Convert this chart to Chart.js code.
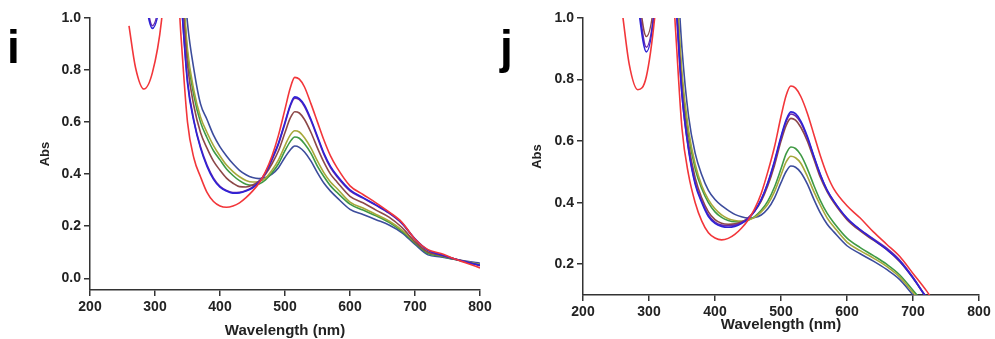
<!DOCTYPE html>
<html>
<head>
<meta charset="utf-8">
<script src="https://cdn.jsdelivr.net/npm/chart.js@4/dist/chart.umd.min.js"></script>
<style>
	body { margin: 0; background: #fff; }
	.panel { position: absolute; top: 0; }
	.tag {
		position: absolute;
		font: bold 46px 'Liberation Sans', Arial, sans-serif;
		line-height: 46px;
		color: #000;
	}
</style>
</head>
<body>
<div class="panel" style="left:0"><canvas id="chart-i" width="495" height="339"></canvas></div>
<div class="panel" style="left:495px"><canvas id="chart-j" width="500" height="339"></canvas></div>
<div class="tag" style="left:7px;top:24px">i</div>
<div class="tag" style="left:500px;top:24px">j</div>
<script>
// Utilities
const wavelength = [260, 270, 283, 296, 310, 320, 330, 340, 350, 360, 370, 380, 390, 400, 410, 420, 430, 440, 450, 460, 470, 480, 490, 500, 508, 515, 522, 530, 540, 550, 560, 570, 580, 600, 620, 640, 660, 680, 700, 720, 740, 760, 780, 800];
const xTicks = [200, 300, 400, 500, 600, 700, 800];
const yTicksI = [0, 0.2, 0.4, 0.6, 0.8, 1.0];
const yTicksJ = [0.2, 0.4, 0.6, 0.8, 1.0];

// Panel i spectra
const iRed = [0.97, 0.81, 0.727, 0.79, 0.99, 1.3, 1.3, 0.93, 0.6, 0.46, 0.39, 0.33, 0.295, 0.278, 0.273, 0.278, 0.29, 0.31, 0.335, 0.365, 0.41, 0.47, 0.55, 0.65, 0.73, 0.772, 0.765, 0.735, 0.67, 0.6, 0.53, 0.47, 0.425, 0.355, 0.322, 0.29, 0.255, 0.215, 0.15, 0.11, 0.095, 0.075, 0.058, 0.04];
const iBlue = [1.4, 1.3, 1.1, 0.96, 1.1, 1.4, 1.4, 1.08, 0.75, 0.6, 0.5, 0.43, 0.38, 0.35, 0.335, 0.327, 0.328, 0.335, 0.347, 0.368, 0.405, 0.46, 0.52, 0.6, 0.665, 0.697, 0.69, 0.665, 0.61, 0.545, 0.48, 0.43, 0.395, 0.34, 0.31, 0.282, 0.252, 0.212, 0.152, 0.108, 0.09, 0.075, 0.062, 0.05];
const iPurple = [1.4, 1.3, 1.12, 0.97, 1.12, 1.4, 1.4, 1.08, 0.76, 0.605, 0.505, 0.435, 0.385, 0.353, 0.337, 0.329, 0.33, 0.337, 0.35, 0.372, 0.405, 0.455, 0.515, 0.595, 0.66, 0.692, 0.686, 0.66, 0.605, 0.54, 0.475, 0.425, 0.39, 0.336, 0.308, 0.28, 0.25, 0.21, 0.15, 0.107, 0.09, 0.075, 0.062, 0.048];
const iBrown = [1.45, 1.35, 1.15, 1.05, 1.15, 1.45, 1.45, 1.15, 0.82, 0.66, 0.56, 0.5, 0.45, 0.415, 0.385, 0.365, 0.352, 0.351, 0.358, 0.373, 0.4, 0.44, 0.49, 0.56, 0.615, 0.64, 0.635, 0.61, 0.56, 0.5, 0.445, 0.4, 0.37, 0.315, 0.29, 0.262, 0.235, 0.195, 0.14, 0.1, 0.088, 0.075, 0.062, 0.05];
const iOlive = [1.5, 1.4, 1.2, 1.1, 1.2, 1.5, 1.5, 1.22, 0.88, 0.72, 0.62, 0.56, 0.51, 0.47, 0.435, 0.41, 0.39, 0.376, 0.37, 0.372, 0.385, 0.415, 0.455, 0.51, 0.55, 0.567, 0.562, 0.54, 0.5, 0.45, 0.405, 0.37, 0.345, 0.293, 0.27, 0.245, 0.22, 0.185, 0.14, 0.1, 0.088, 0.075, 0.063, 0.053];
const iGreen = [1.5, 1.4, 1.2, 1.1, 1.2, 1.5, 1.5, 1.2, 0.86, 0.7, 0.6, 0.54, 0.49, 0.455, 0.42, 0.395, 0.375, 0.361, 0.357, 0.362, 0.378, 0.405, 0.44, 0.49, 0.525, 0.543, 0.538, 0.517, 0.48, 0.43, 0.39, 0.355, 0.33, 0.285, 0.262, 0.24, 0.215, 0.18, 0.135, 0.095, 0.085, 0.073, 0.062, 0.052];
const iSlate = [1.6, 1.5, 1.3, 1.2, 1.3, 1.6, 1.6, 1.3, 0.98, 0.8, 0.67, 0.61, 0.55, 0.505, 0.47, 0.44, 0.415, 0.398, 0.387, 0.383, 0.387, 0.4, 0.425, 0.465, 0.493, 0.508, 0.503, 0.485, 0.45, 0.405, 0.365, 0.335, 0.31, 0.265, 0.245, 0.225, 0.205, 0.175, 0.13, 0.09, 0.082, 0.073, 0.065, 0.058];

// Panel j spectra (curves run off the bottom of the axis after ~720 nm)
const jRed = [1.01, 0.85, 0.767, 0.81, 1.03, 1.3, 1.3, 0.97, 0.64, 0.49, 0.4, 0.34, 0.302, 0.285, 0.279, 0.284, 0.297, 0.317, 0.343, 0.38, 0.43, 0.5, 0.58, 0.68, 0.75, 0.779, 0.772, 0.745, 0.69, 0.62, 0.55, 0.49, 0.445, 0.39, 0.35, 0.305, 0.265, 0.225, 0.17, 0.115, 0.05, null, null, null];
const jBlue = [1.4, 1.3, 1.05, 0.89, 1.06, 1.4, 1.4, 1.08, 0.75, 0.57, 0.46, 0.4, 0.355, 0.333, 0.323, 0.32, 0.323, 0.332, 0.347, 0.372, 0.41, 0.465, 0.535, 0.615, 0.67, 0.695, 0.689, 0.665, 0.615, 0.55, 0.49, 0.44, 0.405, 0.35, 0.312, 0.28, 0.248, 0.21, 0.155, 0.093, 0.04, null, null, null];
const jPurple = [1.4, 1.3, 1.07, 0.905, 1.07, 1.4, 1.4, 1.08, 0.75, 0.575, 0.465, 0.405, 0.36, 0.337, 0.327, 0.325, 0.327, 0.335, 0.35, 0.374, 0.41, 0.463, 0.53, 0.61, 0.665, 0.688, 0.682, 0.66, 0.61, 0.548, 0.488, 0.44, 0.405, 0.348, 0.312, 0.282, 0.252, 0.213, 0.158, 0.094, 0.04, null, null, null];
const jBrown = [1.45, 1.35, 1.1, 0.94, 1.1, 1.45, 1.45, 1.1, 0.77, 0.59, 0.48, 0.415, 0.37, 0.345, 0.333, 0.33, 0.331, 0.337, 0.35, 0.372, 0.405, 0.455, 0.52, 0.6, 0.652, 0.674, 0.668, 0.645, 0.6, 0.54, 0.48, 0.435, 0.4, 0.345, 0.308, 0.278, 0.248, 0.208, 0.155, 0.092, 0.04, null, null, null];
const jOlive = [1.5, 1.4, 1.2, 1.1, 1.2, 1.5, 1.5, 1.17, 0.82, 0.635, 0.525, 0.455, 0.41, 0.38, 0.36, 0.348, 0.342, 0.34, 0.343, 0.352, 0.37, 0.395, 0.435, 0.49, 0.533, 0.551, 0.546, 0.528, 0.485, 0.435, 0.39, 0.35, 0.322, 0.272, 0.244, 0.22, 0.193, 0.158, 0.108, 0.06, null, null, null, null];
const jGreen = [1.5, 1.4, 1.2, 1.1, 1.2, 1.5, 1.5, 1.15, 0.8, 0.62, 0.51, 0.445, 0.4, 0.37, 0.352, 0.342, 0.338, 0.338, 0.343, 0.355, 0.375, 0.405, 0.45, 0.51, 0.56, 0.581, 0.576, 0.555, 0.51, 0.455, 0.405, 0.365, 0.335, 0.285, 0.254, 0.228, 0.2, 0.165, 0.115, 0.065, null, null, null, null];
const jSlate = [1.6, 1.5, 1.3, 1.2, 1.3, 1.6, 1.6, 1.25, 0.9, 0.68, 0.56, 0.49, 0.44, 0.41, 0.39, 0.375, 0.362, 0.354, 0.35, 0.352, 0.36, 0.38, 0.415, 0.465, 0.502, 0.519, 0.515, 0.498, 0.46, 0.41, 0.365, 0.33, 0.305, 0.26, 0.234, 0.21, 0.183, 0.15, 0.1, 0.05, null, null, null, null];

const colors = ['#f2363a', '#2e22d6', '#6b2aa8', '#8c4848', '#a6a83a', '#3f9a44', '#3c4c9c'];
const font = "'Liberation Sans', Arial, sans-serif";

function buildDatasets(series) {
	// first dataset is drawn on top
	return series.map((values, k) => ({
		data: values.map((v, n) => ({ x: wavelength[n], y: v })),
		borderColor: colors[k],
		borderWidth: 1.6,
		pointRadius: 0,
		cubicInterpolationMode: 'monotone',
		clip: 0,
	}));
}

function makeChart(id, series, p) {
	const ctx = document.getElementById(id);

	new Chart(ctx, {
		type: 'line',
		data: { datasets: buildDatasets(series) },
		options: {
			responsive: false,
			animation: false,
			layout: { padding: { top: 18, right: p.right, left: 0, bottom: 0 } },
			plugins: { legend: { display: false }, tooltip: { enabled: false } },
			scales: {
				x: {
					type: 'linear',
					min: 200,
					max: 800,
					afterBuildTicks: (s) => { s.ticks = xTicks.map((v) => ({ value: v })); },
					afterFit: (s) => { s.height = p.xHeight; },
					grid: { drawOnChartArea: false, tickLength: 6, color: '#333', lineWidth: 1.5 },
					border: { color: '#333', width: 1.5 },
					ticks: { color: '#222', padding: 3, font: { family: font, size: 14, weight: 'bold' } },
					title: {
						display: true,
						text: 'Wavelength (nm)',
						color: '#222',
						font: { family: font, size: 15, weight: 'bold', lineHeight: 1 },
						padding: { top: 0, bottom: p.xTitlePad },
					},
				},
				y: {
					min: p.yMin,
					max: 1.0,
					afterBuildTicks: (s) => { s.ticks = p.yTicks.map((v) => ({ value: v })); },
					afterFit: (s) => { s.width = p.yWidth; },
					grid: { drawOnChartArea: false, tickLength: 6, color: '#333', lineWidth: 1.5 },
					border: { color: '#333', width: 1.5 },
					ticks: {
						color: '#222',
						padding: 3,
						font: { family: font, size: 14, weight: 'bold' },
						callback: (v) => v.toFixed(1),
					},
					title: {
						display: true,
						text: 'Abs',
						color: '#222',
						font: { family: font, size: 13, weight: 'bold', lineHeight: 1 },
						padding: { top: p.yTitlePad, bottom: 0 },
					},
				},
			},
		},
	});
}

// Panel i
makeChart('chart-i', [iRed, iBlue, iPurple, iBrown, iOlive, iGreen, iSlate], {
	yMin: -0.045, yTicks: yTicksI, right: 15, xHeight: 49, yWidth: 90, xTitlePad: 0.5, yTitlePad: 38.5,
});

// Panel j
makeChart('chart-j', [jRed, jBlue, jPurple, jBrown, jOlive, jGreen, jSlate], {
	yMin: 0.1, yTicks: yTicksJ, right: 16, xHeight: 44, yWidth: 88, xTitlePad: 6.5, yTitlePad: 35.5,
});
</script>
</body>
</html>
